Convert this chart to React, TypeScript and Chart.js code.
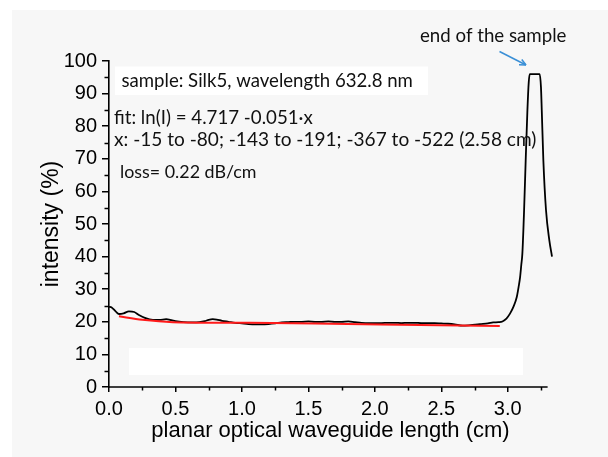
import React, { useEffect, useRef } from 'react';
import { Chart, registerables } from 'chart.js';

Chart.register(...registerables);

// ---- data ----
const measuredX = [
  0.0, 0.02, 0.05, 0.075, 0.11, 0.15, 0.19, 0.225, 0.27, 0.33, 0.38, 0.43, 0.47, 0.5, 0.56, 0.63,
  0.68, 0.72, 0.75, 0.78, 0.81, 0.85, 0.9, 0.95, 1.0, 1.05, 1.1, 1.15, 1.2, 1.25, 1.3, 1.35,
  1.4, 1.45, 1.5, 1.55, 1.6, 1.65, 1.7, 1.75, 1.8, 1.85, 1.9, 1.95, 2.0, 2.05, 2.1, 2.15, 2.2,
  2.25, 2.3, 2.35, 2.4, 2.45, 2.5, 2.55, 2.6, 2.66, 2.72, 2.79, 2.85, 2.89, 2.93, 2.96, 2.99,
  3.017, 3.045, 3.068, 3.083, 3.093, 3.102, 3.11, 3.123, 3.135, 3.148, 3.158, 3.166, 3.24, 3.25,
  3.256, 3.268, 3.288, 3.313, 3.333,
];
const measuredY = [
  24.6, 24.4, 23.2, 22.4, 22.6, 23.2, 23.0, 22.1, 21.2, 20.6, 20.6, 20.8, 20.5, 20.2, 19.9, 19.8,
  19.9, 20.2, 20.6, 20.8, 20.7, 20.3, 20.0, 19.7, 19.5, 19.3, 19.2, 19.2, 19.3, 19.5, 19.8, 19.9,
  20.0, 20.0, 20.1, 20.0, 20.0, 20.1, 20.0, 20.0, 20.1, 19.9, 19.7, 19.6, 19.6, 19.6, 19.7, 19.7, 19.6,
  19.7, 19.7, 19.6, 19.6, 19.6, 19.5, 19.4, 19.2, 18.8, 19.0, 19.3, 19.5, 19.8, 19.9, 20.1, 21.0,
  22.5, 24.8, 27.6, 31.0, 33.7, 37.5, 40.9, 54.2, 69.5, 84.9, 93.5, 96.0, 96.0, 92.0,
  84.9, 69.5, 54.2, 45.0, 40.0,
];
const fitX = [0.075, 0.25, 0.48, 1.06, 2.04, 2.94];
const fitY = [21.7, 20.6, 19.9, 19.7, 19.2, 18.7];

const xAxisEnd = 3.3;
const xMajorTicks = [0, 0.5, 1.0, 1.5, 2.0, 2.5, 3.0];
const xMinorTicks = [0.25, 0.75, 1.25, 1.75, 2.25, 2.75, 3.25];
const yMajorTicks = [0, 10, 20, 30, 40, 50, 60, 70, 80, 90, 100];
const yMinorTicks = [5, 15, 25, 35, 45, 55, 65, 75, 85, 95];

const xTitle = 'planar optical waveguide length (cm)';
const yTitle = 'intensity (%)';
const annSample = 'sample: Silk5, wavelength 632.8 nm';
const annFit = 'fit: ln(I) = 4.717 -0.051\u00b7x';
const annRange = 'x: -15 to -80; -143 to -191; -367 to -522 (2.58 cm)';
const annLoss = 'loss= 0.22 dB/cm';
const annEnd = 'end of the sample';

const W = 608;
const H = 457;
const ANN_FONT = 'Lato, "Open Sans", sans-serif';

function fitText(ctx: CanvasRenderingContext2D, text: string, x: number, y: number, targetW: number) {
  const base = 20;
  ctx.font = `${base}px ${ANN_FONT}`;
  const w = ctx.measureText(text).width;
  const size = (base * targetW) / w;
  ctx.font = `${size.toFixed(2)}px ${ANN_FONT}`;
  ctx.fillText(text, x, y);
}

const decorPlugin = {
  id: 'decor',
  beforeDraw(chart: any) {
    const ctx = chart.ctx as CanvasRenderingContext2D;
    ctx.save();
    ctx.fillStyle = '#ffffff';
    ctx.fillRect(0, 0, W, H);
    ctx.fillStyle = '#f7f7f7';
    ctx.fillRect(12, 10, W - 12, H - 10);
    // white boxes
    ctx.fillStyle = '#ffffff';
    ctx.fillRect(115, 66.5, 313, 28.5);
    ctx.fillRect(129, 348, 394, 27);
    ctx.restore();
  },
  afterDraw(chart: any) {
    const ctx = chart.ctx as CanvasRenderingContext2D;
    const xs = chart.scales.x;
    const ys = chart.scales.y;
    const { left, bottom } = chart.chartArea;
    ctx.save();
    // x axis line (ends at 3.3)
    ctx.strokeStyle = '#000';
    ctx.lineWidth = 1.6;
    ctx.beginPath();
    ctx.moveTo(left - 0.8, bottom);
    ctx.lineTo(xs.getPixelForValue(xAxisEnd), bottom);
    ctx.stroke();
    // minor ticks
    ctx.lineWidth = 1.5;
    ctx.beginPath();
    xMinorTicks.forEach((v) => {
      const px = Math.round(xs.getPixelForValue(v)) + 0.5;
      ctx.moveTo(px, bottom);
      ctx.lineTo(px, bottom + 3.5);
    });
    yMinorTicks.forEach((v) => {
      const py = Math.round(ys.getPixelForValue(v)) + 0.5;
      ctx.moveTo(left, py);
      ctx.lineTo(left - 4.5, py);
    });
    ctx.stroke();

    // annotations
    ctx.fillStyle = '#111';
    ctx.textAlign = 'left';
    ctx.textBaseline = 'alphabetic';
    fitText(ctx, annSample, 121.5, 87, 291.5);
    fitText(ctx, annFit, 114, 124, 199);
    fitText(ctx, annRange, 114, 146, 422.5);
    fitText(ctx, annLoss, 120, 178, 136.5);
    fitText(ctx, annEnd, 420, 41.5, 146.5);

    // arrow
    const x1 = 499.5, y1 = 51.5, x2 = 526, y2 = 65;
    ctx.strokeStyle = '#3a8fd6';
    ctx.lineWidth = 1.5;
    ctx.beginPath();
    ctx.moveTo(x1, y1);
    ctx.lineTo(x2, y2);
    ctx.stroke();
    const ang = Math.atan2(y2 - y1, x2 - x1);
    const hl = 7;
    ctx.beginPath();
    ctx.moveTo(x2, y2);
    ctx.lineTo(x2 - hl * Math.cos(ang - 0.45), y2 - hl * Math.sin(ang - 0.45));
    ctx.moveTo(x2, y2);
    ctx.lineTo(x2 - hl * Math.cos(ang + 0.45), y2 - hl * Math.sin(ang + 0.45));
    ctx.stroke();
    ctx.restore();
  },
};

export default function App() {
  const ref = useRef<HTMLCanvasElement | null>(null);

  useEffect(() => {
    document.body.style.margin = '0';
    const canvas = ref.current;
    if (!canvas) return;
    const chart = new Chart(canvas, {
      type: 'line',
      data: {
        datasets: [
          {
            label: 'measured',
            data: measuredX.map((x, i) => ({ x, y: measuredY[i] })),
            borderColor: '#000000',
            borderWidth: 1.8,
            pointRadius: 0,
            cubicInterpolationMode: 'monotone',
            clip: false as any,
            order: 2,
          },
          {
            label: 'fit',
            data: fitX.map((x, i) => ({ x, y: fitY[i] })),
            borderColor: '#ff1a1a',
            borderWidth: 2,
            pointRadius: 0,
            tension: 0.3,
            order: 1,
          },
        ],
      },
      options: {
        animation: false,
        responsive: false,
        maintainAspectRatio: false,
        devicePixelRatio: 1,
        layout: { padding: { top: 61, right: 56, bottom: 0, left: 0 } },
        plugins: { legend: { display: false }, tooltip: { enabled: false } },
        scales: {
          x: {
            type: 'linear',
            min: 0,
            max: 3.333,
            afterBuildTicks: (s: any) => {
              s.ticks = xMajorTicks.map((v) => ({ value: v }));
            },
            afterFit: (s: any) => {
              s.height = 70;
            },
            grid: { drawOnChartArea: false, color: '#000', lineWidth: 1.5, tickLength: 5 },
            border: { display: false },
            ticks: {
              color: '#000',
              padding: 5,
              maxRotation: 0,
              autoSkip: false,
              font: { family: '"Liberation Sans", Arial, sans-serif', size: 20 },
              callback: (v: any) => Number(v).toFixed(1),
            },
            title: {
              display: true,
              text: xTitle,
              color: '#000',
              font: { family: '"Liberation Sans", Arial, sans-serif', size: 22 },
              padding: { top: 0, bottom: 13 },
            },
          },
          y: {
            type: 'linear',
            min: 0,
            max: 100,
            afterBuildTicks: (s: any) => {
              s.ticks = yMajorTicks.map((v) => ({ value: v }));
            },
            afterFit: (s: any) => {
              s.width = 109;
            },
            grid: { drawOnChartArea: false, color: '#000', lineWidth: 1.5, tickLength: 7 },
            border: { display: true, color: '#000', width: 1.6 },
            ticks: {
              color: '#000',
              padding: 5,
              autoSkip: false,
              font: { family: '"Liberation Sans", Arial, sans-serif', size: 20 },
              callback: (v: any) => String(v),
            },
            title: {
              display: true,
              text: yTitle,
              color: '#000',
              font: { family: '"Liberation Sans", Arial, sans-serif', size: 23 },
              padding: { top: 38, bottom: 0 },
            },
          },
        },
      },
      plugins: [decorPlugin],
    });
    return () => chart.destroy();
  }, []);

  return (
    <div style={{ position: 'relative', width: W, height: H }}>
      <canvas ref={ref} width={W} height={H} style={{ position: 'absolute', left: 0, top: 0, width: W, height: H }} />
    </div>
  );
}
